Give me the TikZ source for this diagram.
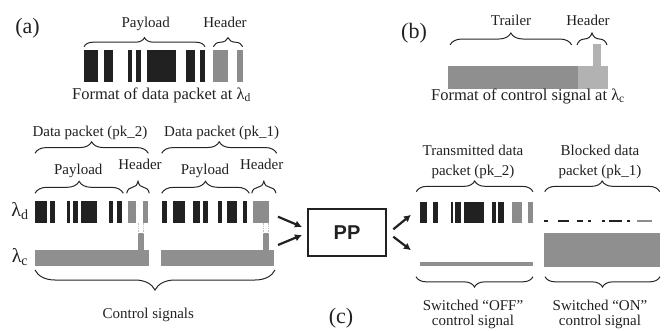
\documentclass[tikz,border=0pt]{standalone}
\usepackage{fontspec}
\setmainfont{Liberation Serif}
\newfontfamily\ppfont{Liberation Sans}
\usetikzlibrary{decorations.pathreplacing,arrows.meta}
\begin{document}
\begin{tikzpicture}[x=1pt,y=-1pt,
  databar/.style={fill=black!87},
  hdrbar/.style={fill=black!45},
  ctrlbar/.style={fill=black!44},
  lightbar/.style={fill=black!30},
  brc/.style={decorate,decoration={brace,amplitude=#1},line width=1pt,draw=black!85},
  brc/.default=10pt,
  lbl/.style={font=\fontsize{15}{17}\selectfont,text=black!87,inner sep=0pt,anchor=base},
  captext/.style={font=\fontsize{16.5}{19}\selectfont,text=black!87,inner sep=0pt,anchor=base},
  tagtext/.style={font=\fontsize{22}{24}\selectfont,text=black!87,inner sep=0pt},
  lamtext/.style={font=\fontsize{20}{22}\selectfont,text=black!87,inner sep=0pt},
  arr/.style={line width=2.2pt,-{Latex[length=7pt,width=7.5pt]},draw=black!87},
  dotline/.style={densely dotted,draw=black!25,line width=0.7pt}]
\useasboundingbox (0,0) rectangle (666,330);

% ---------- (a) ----------
\node[tagtext] (ta) at (27.5,28) {(a)};
\node[lbl] (pla) at (145.7,27.3) {Payload};
\node[lbl] (hda) at (225,27.3) {Header};
\draw[brc=9pt] (84,46.7) -- (205,46.7);
\draw[brc=9pt] (213.3,46.7) -- (242.7,46.7);
\foreach \a/\b in {84/98.3,104/112.7,128.3/132.3,136/141,146.7/175.7,186/195,200/205}
  \fill[databar] (\a,50) rectangle (\b,81.7);
\foreach \a/\b in {213.3/228.3,237.3/242.7}
  \fill[hdrbar] (\a,50) rectangle (\b,81.7);
\node[captext] (capa) at (161.5,99.3) {Format of data packet at λ\textsubscript{d}};

% ---------- (b) ----------
\node[tagtext] (tb) at (414,33) {(b)};
\node[lbl] (trb) at (511,25) {Trailer};
\node[lbl] (hdb) at (588,25) {Header};
\draw[brc=12pt] (450,45) -- (571.7,45);
\draw[brc=12pt] (577,45) -- (607,45);
\fill[ctrlbar] (448,66) rectangle (578,89.3);
\fill[lightbar] (578,66) rectangle (607.7,89.3);
\fill[lightbar] (592.7,44) rectangle (600.7,66.2);
\node[captext] (capb) at (528,100) {Format of control signal at λ\textsubscript{c}};

% ---------- (c) left ----------
\node[lbl] (dp2) at (90,136) {Data packet (pk\_2)};
\node[lbl] (dp1) at (221.7,136) {Data packet (pk\_1)};
\draw[brc=11.5pt] (35,153.3) -- (148.3,153.3);
\draw[brc=11.5pt] (161.7,153.3) -- (276.7,153.3);
\node[lbl] (pl2) at (78.3,174) {Payload};
\node[lbl] (hd2) at (140,169) {Header};
\node[lbl] (pl1) at (205,174) {Payload};
\node[lbl] (hd1) at (261.7,169) {Header};
\draw[brc=12pt] (35,193.3) -- (123.3,193.3);
\draw[brc=12pt] (126.7,193.3) -- (149.3,193.3);
\draw[brc=12pt] (161.7,193.3) -- (249.3,193.3);
\draw[brc=12pt] (251.7,193.3) -- (276,193.3);

\node[lamtext] (ld) at (20,211) {λ\textsubscript{d}};
\node[lamtext] (lc) at (20,257) {λ\textsubscript{c}};

\foreach \a/\b in {34.7/47.2,49.7/55.3,66.7/70.3,72.5/78,80.7/96.5,108.5/112.8,117.2/121.7,
                   161.7/166.7,173.3/185.3,193.3/200,203.3/207.7,218.3/222.3,227.3/237.3,243.3/246.7}
  \fill[databar] (\a,200.5) rectangle (\b,222.7);
\foreach \a/\b in {128/135.8,143.3/148.3,252.5/269.3}
  \fill[hdrbar] (\a,200.5) rectangle (\b,222.7);
\fill[ctrlbar] (35,250) rectangle (149,266);
\fill[ctrlbar] (160.7,250) rectangle (274,266);
\fill[ctrlbar] (138.3,233) rectangle (144,250.2);
\fill[ctrlbar] (262.7,233) rectangle (268.7,250.2);
\foreach \x in {138.8,143.5,263.2,268.2}
  \draw[dotline] (\x,222.7) -- (\x,233);

\draw[brc=20pt] (275,270) -- (35,270);
\node[lbl] (cs) at (148.3,318.3) {Control signals};

% ---------- PP ----------
\node[draw=black!87,line width=2pt,minimum width=77.4pt,minimum height=46.4pt,inner sep=0pt,
      font=\ppfont\bfseries\fontsize{20}{22}\selectfont,text=black!87] (pp) at (347,232.5) {PP};
\coordinate (i1s) at (278,216.7);
\coordinate (i1e) at (302,226.9);
\coordinate (i2s) at (278,245);
\coordinate (i2e) at (302,235);
\coordinate (o1s) at (393.3,229.3);
\coordinate (o1e) at (411,214.8);
\coordinate (o2s) at (393.3,236.7);
\coordinate (o2e) at (411,250.2);
\draw[arr] (i1s) -- (i1e);
\draw[arr] (i2s) -- (i2e);
\draw[arr] (o1s) -- (o1e);
\draw[arr] (o2s) -- (o2e);

\node[tagtext] (tc) at (341,318) {(c)};

% ---------- (c) right ----------
\node[lbl] (tx1) at (473,155) {Transmitted data};
\node[lbl] (tx2) at (473,175) {packet (pk\_2)};
\node[lbl] (bl1) at (600,155) {Blocked data};
\node[lbl] (bl2) at (600,175) {packet (pk\_1)};
\draw[brc=10.7pt] (416.3,191.7) -- (533,191.7);
\draw[brc=10.7pt] (544.7,191.7) -- (659.7,191.7);

\foreach \a/\b in {419.7/427.3,432.7/438.3,450.7/453.3,455/460.7,464.3/484,491.7/496,498.3/504}
  \fill[databar] (\a,201.7) rectangle (\b,222.7);
\foreach \a/\b in {511.7/521.7,528.3/533.3}
  \fill[hdrbar] (\a,201.7) rectangle (\b,222.7);
\fill[ctrlbar] (419.7,261.7) rectangle (533,266);

\foreach \a/\b in {544/548.3,558.3/569.3,576.7/583.3,587.7/590.7,601.7/605,609.3/621.7,627.3/630}
  \fill[databar] (\a,219.8) rectangle (\b,222.3);
\fill[hdrbar] (637.3,219.8) rectangle (652.3,222.3);
\fill[ctrlbar] (544,233.3) rectangle (660,266.7);

\draw[brc=10.3pt] (533,276.7) -- (416,276.7);
\draw[brc=10.3pt] (660,276.7) -- (545,276.7);
\node[lbl] (sw1) at (473,310) {Switched ``OFF''};
\node[lbl] (cs1) at (473,325) {control signal};
\node[lbl] (sw2) at (600,310) {Switched ``ON''};
\node[lbl] (cs2) at (600,325) {control signal};
\end{tikzpicture}
\end{document}
